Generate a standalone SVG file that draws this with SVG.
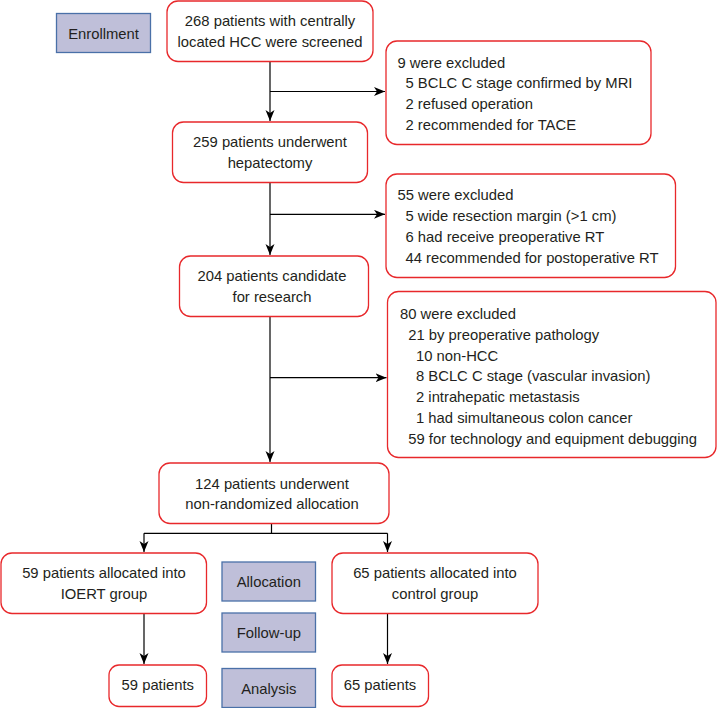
<svg xmlns="http://www.w3.org/2000/svg" width="717" height="708" viewBox="0 0 717 708">
<style>
text{font-family:"Liberation Sans",Arial,sans-serif;font-size:14.8px;fill:#231f20}
.n{fill:#fff;stroke:#e8282b;stroke-width:1.3}
.s{fill:#bfbfd9;stroke:#4a70a8;stroke-width:1.3}
.c{text-anchor:middle}
.e{fill:none;stroke:#000;stroke-width:1.2}
</style>
<defs>
<marker id="a" markerUnits="userSpaceOnUse" markerWidth="12" markerHeight="10" refX="11" refY="4.5" orient="auto">
<path d="M0,0 L11,4.5 L0,9 L3,4.5 z" fill="#000"/>
</marker>
</defs>
<g id="connectors">
<path class="e" d="M270,62 V121" marker-end="url(#a)"/>
<path class="e" d="M270,91.5 H385" marker-end="url(#a)"/>
<path class="e" d="M270,183 V255" marker-end="url(#a)"/>
<path class="e" d="M270,214.3 H385" marker-end="url(#a)"/>
<path class="e" d="M270,317 V462" marker-end="url(#a)"/>
<path class="e" d="M270,377.7 H386.5" marker-end="url(#a)"/>
<path class="e" d="M271.5,524 V533.3 M144,533.3 H387.5"/>
<path class="e" d="M144,533.3 V552" marker-end="url(#a)"/>
<path class="e" d="M387.5,533.3 V552" marker-end="url(#a)"/>
<path class="e" d="M144,614 V664" marker-end="url(#a)"/>
<path class="e" d="M387.5,614 V664" marker-end="url(#a)"/>
</g>
<g id="enrollment"><rect class="s" x="56.5" y="13.5" width="94" height="39"/><text class="c" x="103.5" y="38.5">Enrollment</text></g>
<g id="allocation"><rect class="s" x="222" y="562" width="93.5" height="39"/><text class="c" x="268.8" y="587">Allocation</text></g>
<g id="followup"><rect class="s" x="222" y="613" width="93.5" height="39"/><text class="c" x="268.8" y="638">Follow-up</text></g>
<g id="analysis"><rect class="s" x="222" y="668.5" width="93.5" height="39"/><text class="c" x="268.8" y="693.5">Analysis</text></g>
<g id="screened"><rect class="n" x="167" y="1" width="206" height="60.5" rx="11"/><text class="c" x="270" y="26">268 patients with centrally</text><text class="c" x="270" y="47">located HCC were screened</text></g>
<g id="hepatectomy"><rect class="n" x="172.5" y="122" width="195" height="60.5" rx="11"/><text class="c" x="270" y="147">259 patients underwent</text><text class="c" x="270" y="168">hepatectomy</text></g>
<g id="candidate"><rect class="n" x="179.5" y="256" width="189" height="60.5" rx="11"/><text class="c" x="272" y="281.3">204 patients candidate</text><text class="c" x="272" y="302">for research</text></g>
<g id="excl1"><rect class="n" x="386" y="41" width="265" height="103.5" rx="11"/>
<text x="397.5" y="67.5">9 were excluded</text>
<text x="405.5" y="88.3">5 BCLC C stage confirmed by MRI</text>
<text x="405.5" y="109.1">2 refused operation</text>
<text x="405.5" y="129.9">2 recommended for TACE</text></g>
<g id="excl2"><rect class="n" x="386" y="174" width="289.5" height="103.5" rx="11"/>
<text x="397.5" y="200.3">55 were excluded</text>
<text x="405.5" y="221.1">5 wide resection margin (&gt;1 cm)</text>
<text x="405.5" y="241.9">6 had receive preoperative RT</text>
<text x="405.5" y="262.7">44 recommended for postoperative RT</text></g>
<g id="excl3"><rect class="n" x="387.5" y="291.5" width="328.5" height="166" rx="11"/>
<text x="400" y="318.6">80 were excluded</text>
<text x="408.3" y="339.5">21 by preoperative pathology</text>
<text x="416" y="360.5">10 non-HCC</text>
<text x="416" y="381.4">8 BCLC C stage (vascular invasion)</text>
<text x="416" y="402.4">2 intrahepatic metastasis</text>
<text x="416" y="423.3">1 had simultaneous colon cancer</text>
<text x="408.3" y="444.3">59 for technology and equipment debugging</text></g>
<g id="allocation-node"><rect class="n" x="159" y="463" width="230" height="60.5" rx="11"/><text class="c" x="272" y="488.5">124 patients underwent</text><text class="c" x="272" y="509">non-randomized allocation</text></g>
<g id="ioert"><rect class="n" x="1" y="553" width="205.5" height="60.5" rx="11"/><text class="c" x="104" y="578">59 patients allocated into</text><text class="c" x="104" y="599">IOERT group</text></g>
<g id="control"><rect class="n" x="332" y="553" width="206" height="60.5" rx="11"/><text class="c" x="435" y="578">65 patients allocated into</text><text class="c" x="435" y="599">control group</text></g>
<g id="ioert-analysis"><rect class="n" x="109" y="665" width="97.5" height="41.5" rx="10"/><text class="c" x="157.8" y="690">59 patients</text></g>
<g id="control-analysis"><rect class="n" x="332" y="665" width="96.5" height="41.5" rx="10"/><text class="c" x="380" y="690">65 patients</text></g>
</svg>
